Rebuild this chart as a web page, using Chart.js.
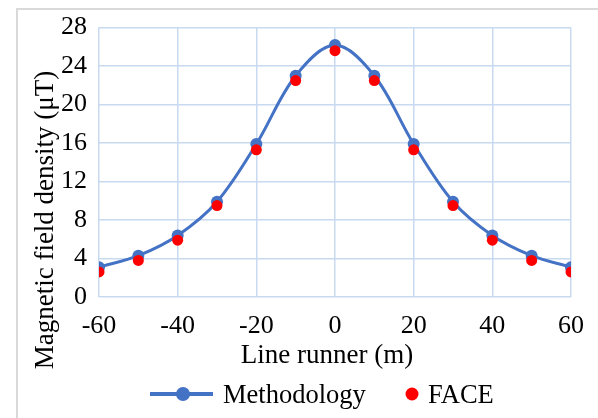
<!DOCTYPE html>
<html>
<head>
<meta charset="utf-8">
<script src="https://cdn.jsdelivr.net/npm/chart.js@4"></script>
<style>
  html, body { margin: 0; padding: 0; background: #fff; }
  #wrap { position: relative; width: 598px; height: 418px; overflow: hidden;
          font-family: "Liberation Serif", serif; color: #000; }
  #frame { position: absolute; left: 16px; top: 8px; width: 700px; height: 600px;
           border-left: 2px solid #d9d9d9; border-top: 2px solid #d9d9d9; }
  canvas { position: absolute; left: 0; top: 0; }
  .axis-title { position: absolute; height: 30px; line-height: 30px; font-size: 27px;
                text-align: center; white-space: nowrap; }
  #ytitle { left: -116px; top: 205px; width: 320px; transform: rotate(-90deg); }
  #xtitle { left: 167px; top: 339px; width: 320px; }
  #legend { position: absolute; left: 0; top: 377px; width: 598px; height: 34px; font-size: 26.5px; }
  .item { position: absolute; top: 0; line-height: 34px; white-space: nowrap; }
  .swatch { position: absolute; }
</style>
</head>
<body>
<div id="wrap">
  <div id="frame"></div>
  <canvas id="fieldChart" width="598" height="418"></canvas>
  <div class="axis-title" id="ytitle">Magnetic field density (μT)</div>
  <div class="axis-title" id="xtitle">Line runner (m)</div>
  <div id="legend">
    <div class="item" style="left:150px;">
      <svg class="swatch" width="64" height="34" style="left:0;top:0">
        <line x1="0" y1="17" x2="63" y2="17" stroke="#4472C4" stroke-width="4"/>
        <circle cx="33" cy="17" r="7" fill="#4472C4"/>
      </svg>
      <span style="position:absolute;left:73px;">Methodology</span>
    </div>
    <div class="item" style="left:404px;">
      <svg class="swatch" width="16" height="34" style="left:0;top:0">
        <circle cx="8" cy="17" r="6.5" fill="#ff0000"/>
      </svg>
      <span style="position:absolute;left:24px;">FACE</span>
    </div>
  </div>
</div>
<script>
// Lateral distance from the line runner (m)
const distances = [-60, -50, -40, -30, -20, -10, 0, 10, 20, 30, 40, 50, 60];
// Magnetic field density (uT)
const methodology = [3.1, 4.3, 6.4, 9.9, 15.9, 23.0, 26.2, 23.0, 15.9, 9.9, 6.4, 4.3, 3.1];
const face = [2.6, 3.8, 5.9, 9.5, 15.3, 22.5, 25.6, 22.5, 15.3, 9.5, 5.9, 3.8, 2.6];

const yTicks = { min: 0, max: 28, step: 4 };
const xTicks = { min: -60, max: 60, step: 20 };

const serif = "'Liberation Serif', 'Times New Roman', serif";
const gridColor = "#c8daf0";

function toPoints(values) {
  return distances.map((d, i) => ({ x: d, y: values[i] }));
}

document.addEventListener("DOMContentLoaded", () => {
  const ctx = document.getElementById("fieldChart");
  new Chart(ctx, {
    type: "line",
    data: {
      datasets: [
        {
          label: "FACE",
          data: toPoints(face),
          showLine: false,
          pointRadius: 5.5,
          pointHoverRadius: 5.5,
          pointBackgroundColor: "#ff0000",
          pointBorderWidth: 0,
          borderColor: "#ff0000",
          order: 0,
        },
        {
          label: "Methodology",
          data: toPoints(methodology),
          borderColor: "#4472C4",
          borderWidth: 3,
          tension: 0.35,
          pointRadius: 6,
          pointHoverRadius: 6,
          pointBackgroundColor: "#4472C4",
          pointBorderWidth: 0,
          fill: false,
          order: 1,
        },
      ],
    },
    options: {
      responsive: false,
      animation: false,
      layout: { padding: { left: 20, right: 25, top: 22, bottom: 47 } },
      plugins: { legend: { display: false }, tooltip: { enabled: false } },
      scales: {
        x: {
          type: "linear",
          min: xTicks.min,
          max: xTicks.max,
          afterFit: (scale) => { scale.height = 74; },
          ticks: {
            stepSize: xTicks.step,
            color: "#000",
            font: { family: serif, size: 26 },
            padding: 14,
            maxRotation: 0,
          },
          grid: { color: gridColor, lineWidth: 1.5, drawTicks: false },
          border: { display: false },
        },
        y: {
          min: yTicks.min,
          max: yTicks.max,
          afterFit: (scale) => { scale.width = 79; },
          ticks: {
            stepSize: yTicks.step,
            color: "#000",
            font: { family: serif, size: 26 },
            padding: 12,
          },
          grid: { color: gridColor, lineWidth: 1.5, drawTicks: false },
          border: { display: false },
        },
      },
    },
  });
});
</script>
</body>
</html>
